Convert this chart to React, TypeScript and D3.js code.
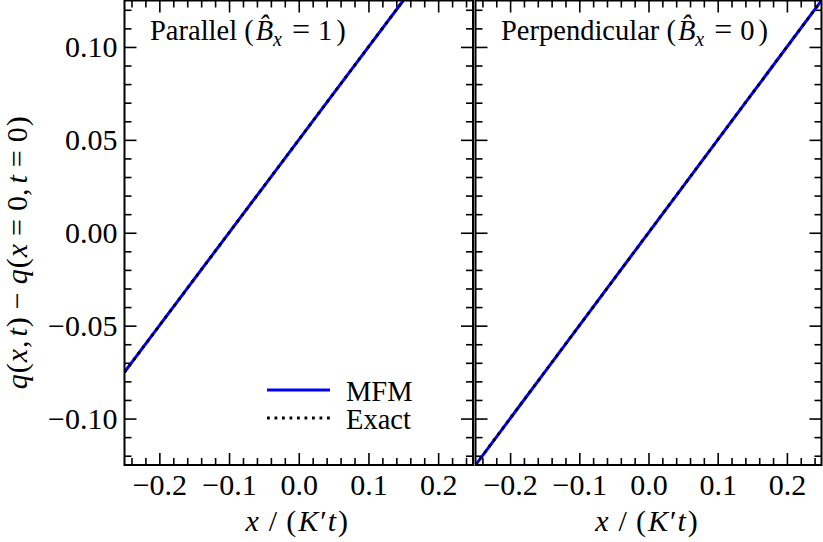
import React, { useEffect, useRef } from 'react';
import * as d3 from 'd3';

// values
const xSamples = [-0.25, -0.15, -0.05, 0.05, 0.15, 0.25];
const parallelMFM = [-0.075, -0.025, 0.025, 0.075, 0.125, 0.175];
const parallelExact = [-0.075, -0.025, 0.025, 0.075, 0.125, 0.175];
const perpMFM = [-0.125, -0.075, -0.025, 0.025, 0.075, 0.125];
const perpExact = [-0.125, -0.075, -0.025, 0.025, 0.075, 0.125];

const xMajor = [-0.2, -0.1, 0.0, 0.1, 0.2];
const yMajor = [-0.1, -0.05, 0.0, 0.05, 0.1];
const xMinor = d3.range(-24, 25, 2).filter(i => i % 10 !== 0).map(i => i / 100);
const yMinor = d3.range(-12, 13, 1).filter(i => i % 5 !== 0).map(i => i / 100);

const panelTitles = ['Parallel', 'Perpendicular'];
const panelBx = ['1', '0'];
const legendLabels = ['MFM', 'Exact'];

const FONT = '"Liberation Serif", "DejaVu Serif", serif';
const fmt = (d: number, p: number) => d.toFixed(p).replace('-', '\u2212');

const App = () => {
  const ref = useRef<SVGSVGElement>(null);
  const dims = { width: 823, height: 542, top: 0.5, bottom: 465 };

  useEffect(() => {
    const svg = d3.select(ref.current);
    svg.selectAll('*').remove();

    const yScale = d3.scaleLinear().domain([-0.125, 0.125]).range([dims.bottom, dims.top]);

    const panels = [
      { x0: 124.5, x1: 473, mfm: parallelMFM, exact: parallelExact },
      { x0: 475.5, x1: 821.5, mfm: perpMFM, exact: perpExact },
    ];

    panels.forEach((p, pi) => {
      const xScale = d3.scaleLinear().domain([-0.25, 0.25]).range([p.x0, p.x1]);
      const g = svg.append('g');

      // clip
      const clipId = `clip${pi}`;
      svg.append('clipPath').attr('id', clipId)
        .append('rect')
        .attr('x', p.x0).attr('y', dims.top)
        .attr('width', p.x1 - p.x0).attr('height', dims.bottom - dims.top);

      const styleAxis = (sel: any) => {
        sel.select('.domain').remove();
        sel.selectAll('line').attr('stroke', '#000').attr('stroke-width', 1.6);
        sel.selectAll('text')
          .attr('font-family', FONT).attr('font-size', 30).attr('fill', '#000');
      };

      // bottom
      g.append('g').attr('transform', `translate(0,${dims.bottom})`)
        .call(d3.axisBottom(xScale).tickValues(xMajor).tickSize(-12).tickPadding(8.5).tickFormat(d => fmt(+d, 1)))
        .call(styleAxis);
      g.append('g').attr('transform', `translate(0,${dims.bottom})`)
        .call(d3.axisBottom(xScale).tickValues(xMinor).tickSize(-7).tickFormat(() => ''))
        .call(styleAxis);
      // top
      g.append('g').attr('transform', `translate(0,${dims.top})`)
        .call(d3.axisTop(xScale).tickValues(xMajor).tickSize(-12).tickFormat(() => ''))
        .call(styleAxis);
      g.append('g').attr('transform', `translate(0,${dims.top})`)
        .call(d3.axisTop(xScale).tickValues(xMinor).tickSize(-7).tickFormat(() => ''))
        .call(styleAxis);
      // left
      g.append('g').attr('transform', `translate(${p.x0},0)`)
        .call(d3.axisLeft(yScale).tickValues(yMajor).tickSize(-12).tickPadding(7)
          .tickFormat(d => (pi === 0 ? fmt(+d, 2) : '')))
        .call(styleAxis);
      g.append('g').attr('transform', `translate(${p.x0},0)`)
        .call(d3.axisLeft(yScale).tickValues(yMinor).tickSize(-7).tickFormat(() => ''))
        .call(styleAxis);
      // right
      g.append('g').attr('transform', `translate(${p.x1},0)`)
        .call(d3.axisRight(yScale).tickValues(yMajor).tickSize(-12).tickFormat(() => ''))
        .call(styleAxis);
      g.append('g').attr('transform', `translate(${p.x1},0)`)
        .call(d3.axisRight(yScale).tickValues(yMinor).tickSize(-7).tickFormat(() => ''))
        .call(styleAxis);

      // lines
      const line = d3.line<number>()
        .x((_, i) => xScale(xSamples[i]))
        .y(d => yScale(d));

      g.append('path').datum(p.mfm)
        .attr('clip-path', `url(#${clipId})`)
        .attr('d', line).attr('fill', 'none')
        .attr('stroke', '#0000ff').attr('stroke-width', 3);
      g.append('path').datum(p.exact)
        .attr('clip-path', `url(#${clipId})`)
        .attr('d', line).attr('fill', 'none')
        .attr('stroke', '#000').attr('stroke-width', 2.8)
        .attr('stroke-dasharray', '2.8,4.7');

      // frame
      g.append('rect')
        .attr('x', p.x0).attr('y', dims.top)
        .attr('width', p.x1 - p.x0).attr('height', dims.bottom - dims.top)
        .attr('fill', 'none').attr('stroke', '#000').attr('stroke-width', 2);

      // panel title
      const title = g.append('text')
        .attr('x', p.x0 + 25.5).attr('y', 40)
        .attr('font-family', FONT).attr('font-size', 28.5).attr('fill', '#000');
      title.append('tspan').text(`${panelTitles[pi]} (`);
      title.append('tspan').attr('font-style', 'italic').attr('dx', 2).text('B\u0302');
      title.append('tspan').attr('font-style', 'italic').attr('font-size', 20).attr('dy', 6).text('x');
      title.append('tspan').attr('dy', -6).attr('dx', 10).attr('font-size', 32).text('=');
      title.append('tspan').attr('dx', 8).text(panelBx[pi]);
      title.append('tspan').attr('dx', 4).text(')');

      // x label
      const xl = g.append('text')
        .attr('x', (p.x0 + p.x1) / 2 - 2).attr('y', 531)
        .attr('text-anchor', 'middle')
        .attr('font-family', FONT).attr('font-size', 30).attr('fill', '#000');
      xl.append('tspan').attr('font-style', 'italic').text('x');
      xl.append('tspan').attr('dx', 10).text('/');
      xl.append('tspan').attr('dx', 9).text('(');
      xl.append('tspan').attr('dx', 2).attr('font-style', 'italic').text('K');
      xl.append('tspan').attr('dx', 2).text('\u2032');
      xl.append('tspan').attr('dx', 1).attr('font-style', 'italic').text('t');
      xl.append('tspan').attr('dx', 2).text(')');
    });

    // legend
    const leg = svg.append('g');
    legendLabels.forEach((lab, i) => {
      const y = 390 + i * 28;
      const ln = leg.append('line').attr('x1', 267).attr('x2', 330).attr('y1', y).attr('y2', y)
        .attr('stroke', i === 0 ? '#0000ff' : '#000').attr('stroke-width', 3);
      if (i === 1) ln.attr('stroke-dasharray', '2.8,4.7');
      leg.append('text').attr('x', 346).attr('y', y + 11).text(lab)
        .attr('font-family', FONT).attr('font-size', 28.5);
    });

    // y label
    const yl = svg.append('text')
      .attr('transform', `translate(27,${yScale(0) + 20}) rotate(-90)`)
      .attr('text-anchor', 'middle')
      .attr('font-family', FONT).attr('font-size', 30).attr('fill', '#000');
    const parts: [string, boolean, number][] = [
      ['q', true, 0], ['(', false, 1], ['x', true, 1], [',', false, 1], ['t', true, 4], [')', false, 1],
      ['\u2212', false, 8], ['q', true, 8], ['(', false, 1], ['x', true, 1], ['=', false, 8], ['0', false, 8],
      [',', false, 0], ['t', true, 5], ['=', false, 8], ['0', false, 8], [')', false, 1],
    ];
    parts.forEach(([s, it, dx]) => {
      yl.append('tspan').attr('font-style', it ? 'italic' : 'normal').attr('dx', dx).text(s);
    });
  }, []);

  return (
    <div id="chartArea" style={{ position: 'absolute', left: 0, top: 0 }}>
      <svg ref={ref} width={dims.width} height={dims.height} style={{ display: 'block', background: '#fff' }} />
    </div>
  );
};

export default App;
